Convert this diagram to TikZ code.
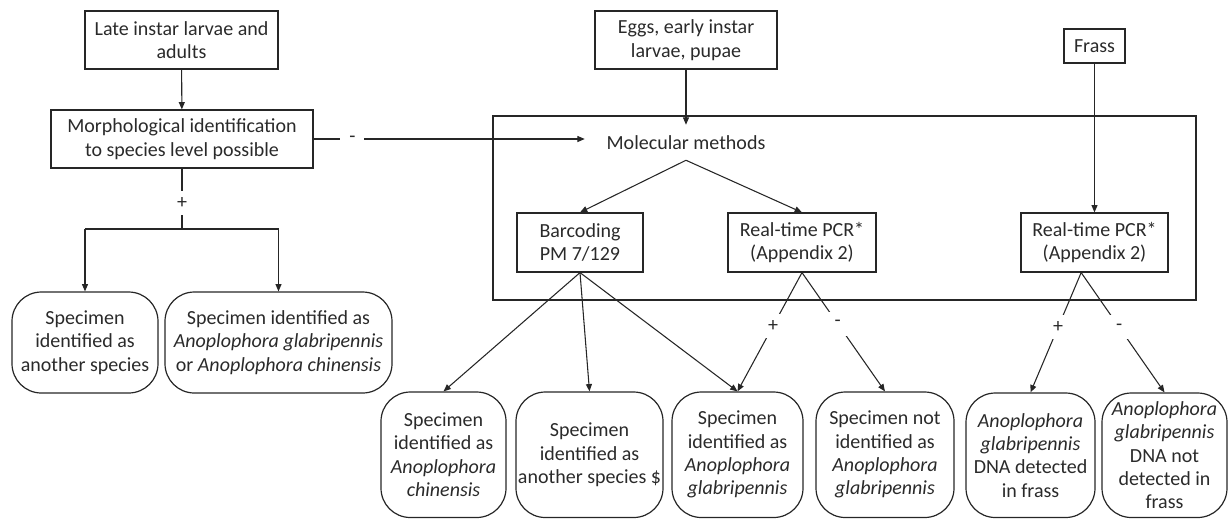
\documentclass[tikz,border=0pt]{standalone}
\usepackage{fontspec}
\setmainfont{Carlito}
\usetikzlibrary{arrows.meta}
\definecolor{lc}{HTML}{262626}
\definecolor{tx}{HTML}{2a2a2a}
\begin{document}
\begin{tikzpicture}[x=0.75pt,y=-0.75pt,
  every node/.style={font=\fontsize{15}{17.5}\selectfont, text=tx},
  sz/.style 2 args={minimum width={#1*0.75pt}, minimum height={#2*0.75pt}},
  box/.style={draw=lc, line width=0.9pt, inner sep=0pt, align=center},
  rbox/.style={box, rounded corners=22pt},
  conn/.style={draw=lc, line width=0.8pt},
  arr/.style={conn, -{Triangle[length=5.5pt,width=4.5pt]}},
  lab/.style={fill=white, inner sep=0pt, minimum size=18pt}
]
\useasboundingbox (0,0) rectangle (1228,519);

% panel
\node[draw=lc, line width=0.9pt, inner sep=0pt, sz={703}{184}] (panel) at (844.5,208) {};

% boxes
\node[box, sz={193}{58}] (late) at (181.5,40) {Late instar larvae and\\adults};
\node[box, sz={262}{58}] (morph) at (182,139) {Morphological identification\\to species level possible};
\node[box, sz={182}{58}] (eggs) at (686,40) {Eggs, early instar\\larvae, pupae};
\node[box, sz={61}{34}] (frass) at (1094.5,46) {Frass};
\node[inner sep=0pt, sz={202}{35}] (mm) at (686,142.5) {Molecular methods};
\node[box, sz={126}{59}] (bc) at (580,242.5) {Barcoding\\PM 7/129};
\node[box, sz={148}{59}] (pcr1) at (802,242.5) {Real-time PCR*\\(Appendix 2)};
\node[box, sz={147}{59}] (pcr2) at (1094.5,242.5) {Real-time PCR*\\(Appendix 2)};

% outcomes
\node[rbox, sz={146}{101}] (sp1) at (85,342.5) {Specimen\\identified as\\another species};
\node[rbox, sz={227}{101}] (sp2) at (278.5,342.5) {Specimen identified as\\\textit{Anoplophora glabripennis}\\or \textit{Anoplophora chinensis}};
\node[rbox, sz={125}{125.5}] (chin) at (443.5,454.75) {Specimen\\identified as\\\textit{Anoplophora}\\\textit{chinensis}};
\node[rbox, sz={147}{125.5}] (other) at (589.5,454.75) {Specimen\\identified as\\another species \$};
\node[rbox, sz={131}{125.5}] (glab) at (737.5,454.75) {Specimen\\identified as\\\textit{Anoplophora}\\\textit{glabripennis}};
\node[rbox, sz={138}{125.5}] (notid) at (885,454.75) {Specimen not\\identified as\\\textit{Anoplophora}\\\textit{glabripennis}};
\node[rbox, sz={129}{124.5}] (dna) at (1030.5,455.25) {\textit{Anoplophora}\\\textit{glabripennis}\\DNA detected\\in frass};
\node[rbox, sz={125}{124.5}] (dnanot) at (1164.5,455.25) {\textit{Anoplophora}\\\textit{glabripennis}\\DNA not\\detected in\\frass};

% junction coordinates
\coordinate (jm) at (182,229);
\coordinate (jl) at (85,229);
\coordinate (jr) at (278.5,229);

% connectors
\draw[arr] (late) -- (morph);
\draw[conn] (morph.south) -- node[lab, pos=0.57] {+} (jm);
\draw[conn] (jl) -- (jr);
\draw[arr] (jl) -- (sp1.north);
\draw[arr] (jr) -- (sp2.north);
\draw[arr] (morph.east) -- node[lab, pos=0.143] {-} (mm.west |- morph.east);
\draw[arr] (eggs.south) -- (mm.north);
\draw[arr] (frass.south) -- (pcr2.north);
\draw[arr] (mm.south) -- (bc.north);
\draw[arr] (mm.south) -- (pcr1.north);
\draw[arr] (bc.south) -- (chin.north);
\draw[arr] (bc.south) -- (other.north);
\draw[arr] (bc.south) -- (glab.north);
\draw[arr] (pcr1.south) -- node[lab, pos=0.45] {+} (glab.north);
\draw[arr] (pcr1.south) -- node[lab, pos=0.43] {-} (notid.north);
\draw[arr] ([xshift=-10pt]pcr2.south) -- node[lab, pos=0.455] {+} (dna.north);
\draw[arr] ([xshift=-10pt]pcr2.south) -- node[lab, pos=0.455] {-} (dnanot.north);
\end{tikzpicture}
\end{document}
